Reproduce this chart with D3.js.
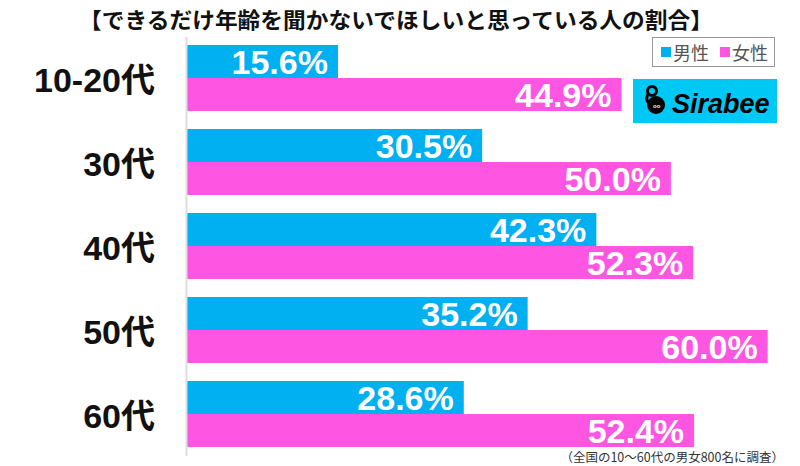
<!DOCTYPE html>
<html>
<head>
<meta charset="utf-8">
<script src="https://cdn.jsdelivr.net/npm/d3@7"></script>
<style>
  body { margin: 0; background: #fff; }
  svg { display: block; }
</style>
</head>
<body>
<div id="chart"></div>
<script>
var svgWidth = 800;
var svgHeight = 466;

// data
var categories = ["10-20代", "30代", "40代", "50代", "60代"];
var seriesNames = ["男性", "女性"];
var maleValues = [15.6, 30.5, 42.3, 35.2, 28.6];
var femaleValues = [44.9, 50.0, 52.3, 60.0, 52.4];
var colors = ["#00b0f0", "#ff55e3"];

var title = "【できるだけ年齢を聞かないでほしいと思っている人の割合】";
var footnote = "（全国の10～60代の男女800名に調査）";

var svg = d3.select("#chart")
  .append("svg")
  .attr("width", svgWidth)
  .attr("height", svgHeight);

var xScale = d3.scaleLinear()
  .domain([0, 62])
  .range([187, 787]);

var yScale = d3.scaleBand()
  .domain(categories)
  .range([45, 447])
  .paddingInner(18 / 84)
  .paddingOuter(0);

var subScale = d3.scaleBand()
  .domain(seriesNames)
  .range([0, yScale.bandwidth()]);

var rows = categories.map(function(c, i) {
  return { cat: c, vals: [
    { name: seriesNames[0], v: maleValues[i] },
    { name: seriesNames[1], v: femaleValues[i] }
  ] };
});

// title
svg.append("text")
  .attr("x", 396)
  .attr("y", 28)
  .attr("text-anchor", "middle")
  .attr("font-family", "'Noto Sans CJK JP'")
  .attr("font-weight", 700)
  .attr("font-size", 22)
  .attr("textLength", 634)
  .attr("lengthAdjust", "spacingAndGlyphs")
  .attr("fill", "#111")
  .text(title);

var groups = svg.selectAll(".grp")
  .data(rows)
  .enter()
  .append("g")
  .attr("class", "grp")
  .attr("transform", d => `translate(0, ${yScale(d.cat)})`);

groups.selectAll("rect")
  .data(d => d.vals)
  .enter()
  .append("rect")
  .attr("x", xScale(0))
  .attr("y", d => subScale(d.name))
  .attr("width", d => xScale(d.v) - xScale(0))
  .attr("height", subScale.bandwidth())
  .attr("fill", (d, i) => colors[i]);

groups.selectAll(".val")
  .data(d => d.vals)
  .enter()
  .append("text")
  .attr("class", "val")
  .attr("x", d => xScale(d.v) - 10)
  .attr("y", d => subScale(d.name) + subScale.bandwidth() / 2 + 12)
  .attr("text-anchor", "end")
  .attr("font-family", "'Liberation Sans', Arial, sans-serif")
  .attr("font-weight", 700)
  .attr("font-size", 34)
  .attr("fill", "#fff")
  .text(d => d.v.toFixed(1) + "%");

// category labels
groups.append("text")
  .attr("x", 155)
  .attr("y", yScale.bandwidth() / 2 + 14)
  .attr("text-anchor", "end")
  .attr("font-family", "'Liberation Sans', 'Noto Sans CJK JP', sans-serif")
  .attr("font-weight", 700)
  .attr("font-size", 34)
  .attr("fill", "#111")
  .text(d => d.cat);

// axis line
svg.append("line")
  .attr("x1", xScale(0) - 0.5)
  .attr("x2", xScale(0) - 0.5)
  .attr("y1", 37)
  .attr("y2", 456)
  .attr("stroke", "#dddddd")
  .attr("stroke-width", 2);

// legend
var legend = svg.append("g");
legend.append("rect")
  .attr("x", 652.5)
  .attr("y", 37.5)
  .attr("width", 122)
  .attr("height", 29)
  .attr("fill", "#fff")
  .attr("stroke", "#999")
  .attr("stroke-width", 1);

var legendItems = legend.selectAll(".li")
  .data(seriesNames)
  .enter()
  .append("g")
  .attr("transform", (d, i) => `translate(${661 + i * 59}, 0)`);

legendItems.append("rect")
  .attr("x", 0)
  .attr("y", 47)
  .attr("width", 10)
  .attr("height", 10)
  .attr("fill", (d, i) => colors[i]);

legendItems.append("text")
  .attr("x", 12)
  .attr("y", 59.5)
  .attr("font-family", "'Noto Sans CJK JP'")
  .attr("font-size", 18)
  .attr("fill", "#555")
  .text(d => d);

// logo
var logo = svg.append("g");
logo.append("rect")
  .attr("x", 633)
  .attr("y", 79)
  .attr("width", 144)
  .attr("height", 44)
  .attr("fill", "#00c8f5");
logo.append("circle")
  .attr("cx", 656)
  .attr("cy", 105)
  .attr("r", 9)
  .attr("fill", "#000");
logo.append("circle")
  .attr("cx", 652)
  .attr("cy", 91)
  .attr("r", 4.5)
  .attr("fill", "none")
  .attr("stroke", "#000")
  .attr("stroke-width", 3);
logo.append("path")
  .attr("d", "M648,94 Q645,100 649,103")
  .attr("fill", "none")
  .attr("stroke", "#000")
  .attr("stroke-width", 3);
logo.append("text")
  .attr("x", 653)
  .attr("y", 108)
  .attr("font-family", "'Liberation Sans'")
  .attr("font-size", 6)
  .attr("font-weight", 700)
  .attr("fill", "#fff")
  .text("oo");
logo.append("text")
  .attr("x", 672)
  .attr("y", 113)
  .attr("font-family", "'Liberation Sans', Arial, sans-serif")
  .attr("font-weight", 700)
  .attr("font-style", "italic")
  .attr("font-size", 27)
  .attr("fill", "#000")
  .text("Sirabee");

// footnote
svg.append("text")
  .attr("x", 784)
  .attr("y", 462)
  .attr("text-anchor", "end")
  .attr("font-family", "'Noto Sans CJK JP'")
  .attr("font-size", 12.5)
  .attr("fill", "#333")
  .text(footnote);
</script>
</body>
</html>
